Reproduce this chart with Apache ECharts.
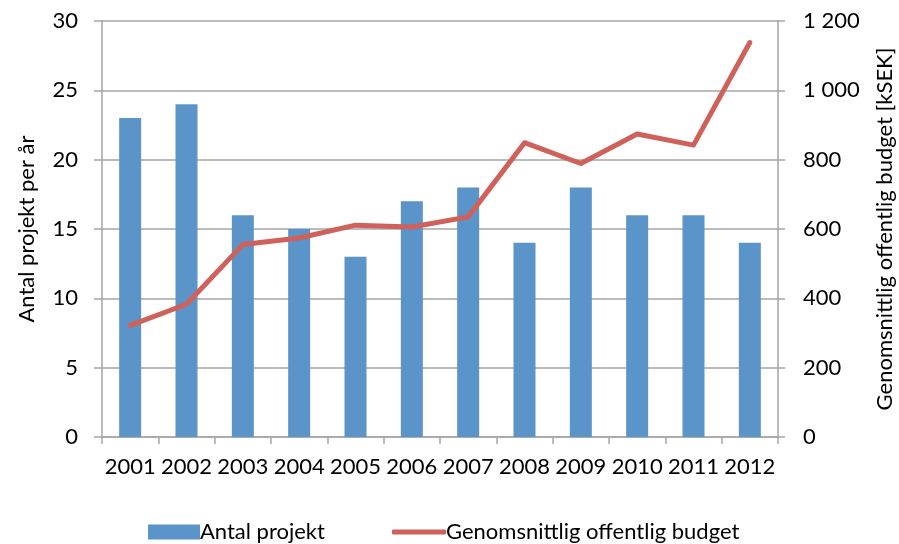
<!DOCTYPE html>
<html>
<head>
<meta charset="utf-8">
<script src="https://cdn.jsdelivr.net/npm/echarts@6/dist/echarts.min.js"></script>
<style>
  html, body { margin: 0; padding: 0; background: #fff; }
  #chart { width: 899px; height: 544px; }
</style>
</head>
<body>
<div id="chart"></div>
<script>
// Years on the category axis
const years = ['2001', '2002', '2003', '2004', '2005', '2006', '2007', '2008', '2009', '2010', '2011', '2012'];
// Number of projects per year (left axis)
const antalProjekt = [23, 24, 16, 15, 13, 17, 18, 14, 18, 16, 16, 14];
// Average public budget in kSEK (right axis)
const budget = [322, 383, 555, 574, 611, 606, 635, 849, 789, 874, 842, 1138];
// Axis tick definitions
const leftTicks = { min: 0, max: 30, interval: 5 };
const rightTicks = { min: 0, max: 1200, interval: 200 };

const FONT = 'Lato, "Liberation Sans", sans-serif';
const FS = 22;
const gridColor = '#a6a6a6';
const barColor = '#5b94c8';
const lineColor = '#cf615a';

const chart = echarts.init(document.getElementById('chart'), null, { renderer: 'canvas' });

const legendText = { fontFamily: FONT, fontSize: FS, color: '#000', padding: [0, 0, 0, -5] };

chart.setOption({
  animation: false,
  textStyle: { fontFamily: FONT, color: '#000' },
  grid: {
    left: 102, right: 121, top: 21, bottom: 107,
    containLabel: false,
    outerBoundsMode: 'none'
  },
  legend: [
    {
      left: 143,
      top: 516,
      itemWidth: 52,
      itemHeight: 15,
      textStyle: legendText,
      data: [{ name: 'Antal projekt', icon: 'rect' }]
    },
    {
      left: 387,
      top: 516,
      itemWidth: 54,
      itemHeight: 5,
      textStyle: legendText,
      data: [{ name: 'Genomsnittlig offentlig budget', icon: 'roundRect' }]
    }
  ],
  xAxis: {
    type: 'category',
    data: years,
    boundaryGap: true,
    axisLine: { lineStyle: { color: gridColor, width: 1.5 } },
    axisTick: { show: true, length: 7, lineStyle: { color: gridColor, width: 1.5 } },
    axisLabel: { fontFamily: FONT, fontSize: FS, color: '#000', margin: 19, interval: 0 }
  },
  yAxis: [
    {
      type: 'value',
      min: leftTicks.min, max: leftTicks.max, interval: leftTicks.interval,
      name: 'Antal projekt per år',
      nameLocation: 'middle',
      nameGap: 64,
      nameTextStyle: { fontFamily: FONT, fontSize: FS, color: '#000' },
      axisLine: { show: true, lineStyle: { color: gridColor, width: 1.5 } },
      axisTick: { show: true, length: 8, lineStyle: { color: gridColor, width: 1.5 } },
      axisLabel: { fontFamily: FONT, fontSize: FS, color: '#000', margin: 24 },
      splitLine: { show: true, lineStyle: { color: gridColor, width: 1.5 } }
    },
    {
      type: 'value',
      min: rightTicks.min, max: rightTicks.max, interval: rightTicks.interval,
      name: 'Genomsnittlig offentlig budget [kSEK]',
      nameLocation: 'middle',
      nameGap: 96,
      nameRotate: 90,
      nameTextStyle: { fontFamily: FONT, fontSize: FS, color: '#000' },
      axisLine: { show: true, lineStyle: { color: gridColor, width: 1.5 } },
      axisTick: { show: true, length: 7, lineStyle: { color: gridColor, width: 1.5 } },
      axisLabel: {
        fontFamily: FONT, fontSize: FS, color: '#000', margin: 25,
        formatter: v => String(v).replace(/\B(?=(\d{3})+(?!\d))/g, ' ')
      },
      splitLine: { show: false }
    }
  ],
  series: [
    {
      name: 'Antal projekt',
      type: 'bar',
      yAxisIndex: 0,
      data: antalProjekt,
      barWidth: 22,
      itemStyle: { color: barColor }
    },
    {
      name: 'Genomsnittlig offentlig budget',
      type: 'line',
      yAxisIndex: 1,
      data: budget,
      symbol: 'none',
      lineStyle: { color: lineColor, width: 5, cap: 'round', join: 'round' },
      itemStyle: { color: lineColor }
    }
  ]
});
</script>
</body>
</html>
